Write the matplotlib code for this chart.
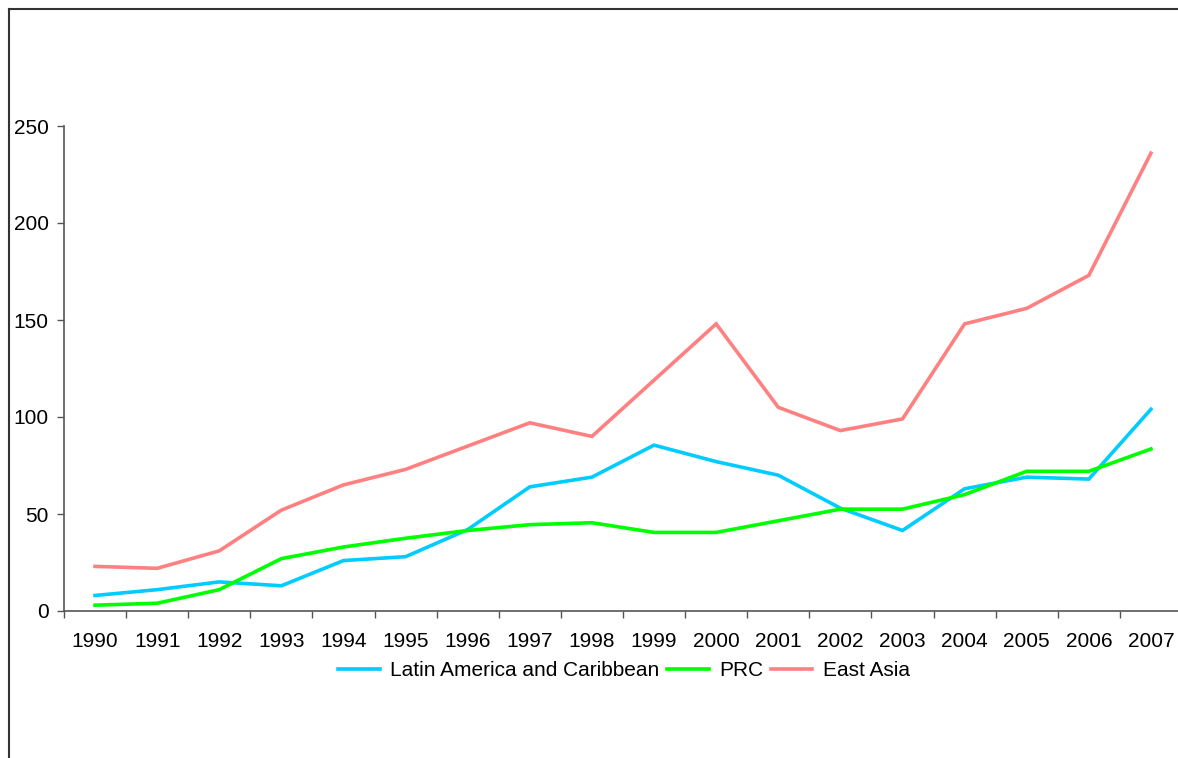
import numpy as np
import matplotlib
matplotlib.use("Agg")
import matplotlib.pyplot as plt
from matplotlib.lines import Line2D

plt.rcParams["font.family"] = ["Liberation Sans", "DejaVu Sans"]

# Data
years = [str(y) for y in range(1990, 2008)]
latin_america = [8, 11, 15, 13, 26, 28, 42, 64, 69, 85.5, 77, 70, 53, 41.5, 63, 69, 68, 104]
prc = [3, 4, 11, 27, 33, 37.5, 41.5, 44.5, 45.5, 40.5, 40.5, 46.5, 52.5, 52.5, 60, 72, 72, 83.5]
east_asia = [23, 22, 31, 52, 65, 73, 85, 97, 90, 119, 148, 105, 93, 99, 148, 156, 173, 236]

series = [
    ("Latin America and Caribbean", latin_america, "#00CCFF"),
    ("PRC", prc, "#00FF00"),
    ("East Asia", east_asia, "#FF8080"),
]

fig = plt.figure(figsize=(11.78, 7.58), dpi=100)
ax = fig.add_axes([64 / 1178, 147 / 758, 1118 / 1178, 485 / 758])

x = np.arange(len(years))
for name, vals, col in series:
    ax.plot(x, vals, color=col, lw=2.6, label=name, solid_joinstyle="miter")

ax.set_xlim(-0.5, len(years) - 0.5)
ax.set_ylim(0, 250)
ax.set_yticks(range(0, 251, 50))

# category boundaries get the tick marks, labels sit at the centres
ax.set_xticks(np.arange(-0.5, len(years), 1.0))
ax.set_xticklabels([])
ax.set_xticks(x, minor=True)
ax.set_xticklabels(years, minor=True)
ax.tick_params(axis="x", which="minor", length=0, pad=15, labelsize=15)
ax.tick_params(axis="x", which="major", length=5, width=1, color="#555555", direction="out")
ax.tick_params(axis="y", length=5, width=1, color="#555555", direction="out", pad=6, labelsize=15)

for side in ["top", "right"]:
    ax.spines[side].set_visible(False)
for side in ["left", "bottom"]:
    ax.spines[side].set_color("#555555")
    ax.spines[side].set_linewidth(1.2)

fig.legend(loc="center", bbox_to_anchor=(624 / 1178, 1 - 671 / 758), ncol=3,
           frameon=False, fontsize=15, handlelength=2.0, handletextpad=0.5,
           columnspacing=0.35)

# outer chart-area border (only top and left are inside the crop)
fig.add_artist(Line2D([9 / 1178, 1.0], [1 - 9 / 758, 1 - 9 / 758], color="#333333", lw=1.5,
                      transform=fig.transFigure))
fig.add_artist(Line2D([9 / 1178, 9 / 1178], [0, 1 - 9 / 758], color="#333333", lw=1.5,
                      transform=fig.transFigure))

fig.savefig("out.png", dpi=100)
